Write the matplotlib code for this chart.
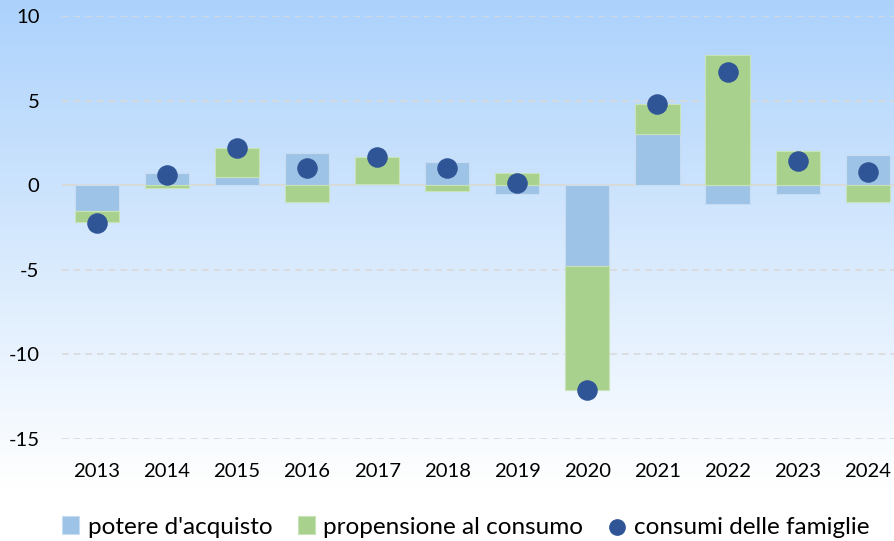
import matplotlib.pyplot as plt
import numpy as np

plt.rcParams['font.family'] = ['Lato', 'DejaVu Sans']

anni = ['2013', '2014', '2015', '2016', '2017', '2018',
        '2019', '2020', '2021', '2022', '2023', '2024']
potere = [-1.5, 0.7, 0.5, 1.9, 0.1, 1.35, -0.5, -4.75, 3.05, -1.1, -0.5, 1.8]
propensione = [-0.7, -0.15, 1.7, -1.0, 1.55, -0.35, 0.7, -7.35, 1.72, 7.7, 2.0, -1.0]
consumi = [-2.25, 0.6, 2.2, 1.0, 1.65, 1.0, 0.15, -12.1, 4.77, 6.68, 1.45, 0.8]

c_blue = '#9DC3E6'
c_green = '#A9D18E'
c_dot = '#2F5597'

fig = plt.figure(figsize=(8.94, 5.41), dpi=100)

# gradient background
bg = fig.add_axes([0, 0, 1, 1], zorder=-10)
top = np.array([172, 210, 252]) / 255
bot = np.array([255, 255, 255]) / 255
t = np.clip(np.linspace(0, 1, 541) / 0.9, 0, 1)[:, None]
grad = top * (1 - t) + bot * t
bg.imshow(np.repeat(grad[:, None, :], 2, axis=1), aspect='auto', extent=[0, 1, 0, 1])
bg.axis('off')

ax = fig.add_axes([61.6 / 894, 102 / 541, (894 - 61.6) / 894, 423 / 541])
ax.patch.set_alpha(0)
x = np.arange(len(anni))
w = 0.63

pot = np.array(potere)
prop = np.array(propensione)
# stacking like Excel: positives upward, negatives downward
pos_base = np.where(pot > 0, pot, 0)
neg_base = np.where(pot < 0, pot, 0)
prop_base = np.where(prop >= 0, pos_base, neg_base)

h1 = ax.bar(x, pot, w, color=c_blue, edgecolor='#C9DDF2', linewidth=0.8,
            label="potere d'acquisto", zorder=2)
h2 = ax.bar(x, prop, w, bottom=prop_base, color=c_green, edgecolor='#C9E3B8',
            linewidth=0.8, label='propensione al consumo', zorder=2)
h3 = ax.scatter(x, consumi, s=190, color=c_dot, zorder=3, label='consumi delle famiglie')

ax.set_ylim(-15, 10)
ax.set_xlim(-0.5, (894 - 61.6) / 70.1 - 0.5)
ax.set_yticks([-15, -10, -5, 0, 5, 10])
ax.set_yticklabels(['-15', '-10', '-5', '0', '5', '10'])
for yv in [-15, -10, -5, 5, 10]:
    ax.axhline(yv, color='#D9D9D9', lw=1.2, ls=(0, (4, 3)), zorder=1)
ax.axhline(0, color='#D9D9D9', lw=1.5, zorder=1)

ax.set_xticks(x)
ax.set_xticklabels(anni)
ax.tick_params(axis='both', length=0, labelsize=14.6, colors='black')
ax.tick_params(axis='y', pad=16)
ax.tick_params(axis='x', pad=17)
for s in ax.spines.values():
    s.set_visible(False)

fig.legend([h1, h2, h3], ["potere d'acquisto", 'propensione al consumo', 'consumi delle famiglie'],
           loc='center', bbox_to_anchor=(466 / 894, 1 - 527 / 541), ncol=3,
           frameon=False, fontsize=17.5, handlelength=0.7, handleheight=0.7,
           handletextpad=0.35, columnspacing=1.05, markerscale=0.8)

fig.savefig('out.png', dpi=100)
